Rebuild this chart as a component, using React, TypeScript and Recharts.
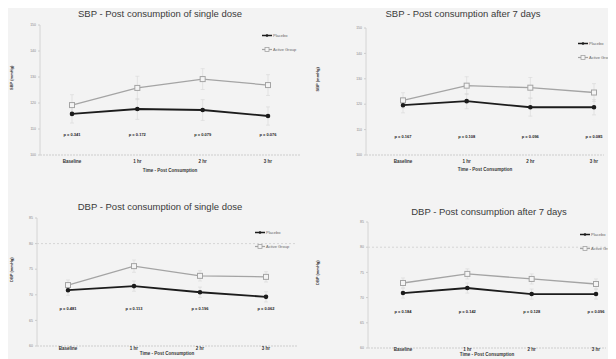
import React from "react";
import {
  LineChart, Line, XAxis, YAxis, ErrorBar, LabelList, ReferenceLine,
} from "recharts";

const TIMES = ["Baseline", "1 hr", "2 hr", "3 hr"];
const SERIES_NAMES = ["Placebo", "Active Group"];

// SBP, single dose
const SBP_SINGLE_PLACEBO = [115.8, 117.7, 117.3, 115.0];
const SBP_SINGLE_ACTIVE = [119.2, 125.8, 129.2, 126.9];
const SBP_SINGLE_ERR_P = [3.5, 4, 4, 3.5];
const SBP_SINGLE_ERR_A = [4, 4.5, 4, 4];
const SBP_SINGLE_P = ["p = 0.341", "p = 0.172", "p = 0.079", "p = 0.076"];

// SBP, after 7 days
const SBP_WEEK_PLACEBO = [119.6, 121.2, 118.8, 118.8];
const SBP_WEEK_ACTIVE = [121.5, 127.3, 126.5, 124.6];
const SBP_WEEK_ERR_P = [3, 3, 3.5, 3];
const SBP_WEEK_ERR_A = [3, 3.5, 4, 3.5];
const SBP_WEEK_P = ["p = 0.167", "p = 0.108", "p = 0.096", "p = 0.085"];

// DBP, single dose
const DBP_SINGLE_PLACEBO = [70.9, 71.7, 70.5, 69.6];
const DBP_SINGLE_ACTIVE = [71.9, 75.6, 73.7, 73.5];
const DBP_SINGLE_ERR_P = [1, 1, 1, 1];
const DBP_SINGLE_ERR_A = [1, 1.2, 1, 1];
const DBP_SINGLE_P = ["p = 0.481", "p = 0.113", "p = 0.196", "p = 0.062"];

// DBP, after 7 days
const DBP_WEEK_PLACEBO = [70.9, 71.9, 70.7, 70.7];
const DBP_WEEK_ACTIVE = [72.9, 74.7, 73.7, 72.7];
const DBP_WEEK_ERR_P = [1, 1, 1, 1];
const DBP_WEEK_ERR_A = [1, 1, 1, 1];
const DBP_WEEK_P = ["p = 0.184", "p = 0.142", "p = 0.128", "p = 0.096"];

const SBP_TICKS = [100, 110, 120, 130, 140, 150];
const DBP_TICKS = [60, 65, 70, 75, 80, 85];

const FONT = "'Liberation Sans', Arial, sans-serif";
const DARK = "#1c1c1c";
const GREY = "#a4a4a4";

function build(placebo: number[], active: number[], errP: number[], errA: number[], p: string[], pLevel: number) {
  return TIMES.map((time, i) => ({
    time,
    placebo: placebo[i],
    active: active[i],
    errP: errP[i],
    errA: errA[i],
    p: p[i],
    pLevel,
  }));
}

const SquareDot = (props: any) => {
  const { cx, cy, index } = props;
  if (cx == null || cy == null) return <g key={index} />;
  return <rect key={index} x={cx - 2.5} y={cy - 2.5} width={5} height={5} fill="#f4f4f4" stroke={GREY} strokeWidth={1} />;
};

function LegendBox({ left, top }: { left: number; top: number }) {
  return (
    <div style={{ position: "absolute", left, top, fontFamily: FONT, fontSize: 4, color: "#666", lineHeight: "5px", whiteSpace: "nowrap" }}>
      <div style={{ display: "flex", alignItems: "center", gap: 1, height: 14 }}>
        <svg width={10} height={5}>
          <line x1={0} y1={2.5} x2={10} y2={2.5} stroke={DARK} strokeWidth={1.5} />
          <circle cx={5} cy={2.5} r={1.3} fill={DARK} />
        </svg>
        <span>{SERIES_NAMES[0]}</span>
      </div>
      <div style={{ display: "flex", alignItems: "center", gap: 1, height: 14 }}>
        <svg width={10} height={5}>
          <line x1={0} y1={2.5} x2={10} y2={2.5} stroke={GREY} strokeWidth={1.2} />
          <rect x={3} y={0.5} width={4} height={4} fill="#f4f4f4" stroke={GREY} strokeWidth={0.8} />
        </svg>
        <span>{SERIES_NAMES[1]}</span>
      </div>
    </div>
  );
}

interface PanelProps {
  left: number;
  top: number;
  width: number;
  height: number;
  margin: { top: number; right: number; left: number; bottom: number };
  yAxisWidth: number;
  padding: { left: number; right: number };
  title: string;
  titleX: number;
  titleY: number;
  yLabel: string;
  xLabelOffset: number;
  xTickSize: number;
  data: ReturnType<typeof build>;
  domain: [number, number];
  ticks: number[];
  legendLeft: number;
  legendTop: number;
  refY?: number;
}

function Panel(p: PanelProps) {
  return (
    <>
      <div
        style={{
          position: "absolute", left: p.titleX - 110, top: p.titleY - 7, width: 220,
          textAlign: "center", fontFamily: FONT, fontSize: 9.5, color: "#3a3a3a", whiteSpace: "nowrap",
        }}
      >
        {p.title}
      </div>
      <div style={{ position: "absolute", left: p.left, top: p.top }}>
        <LineChart width={p.width} height={p.height} data={p.data} margin={p.margin}>
          <XAxis
            dataKey="time"
            padding={p.padding}
            tick={{ fontSize: 4.5, fill: "#333", fontFamily: FONT, fontWeight: 700 }}
            tickLine={false}
            tickSize={p.xTickSize}
            tickMargin={0}
            axisLine={{ stroke: "#cdcdcd", strokeDasharray: "2 1" }}
            height={25}
            label={{ value: "Time - Post Consumption", position: "insideTop", offset: p.xLabelOffset, fontSize: 4.5, fontWeight: 700, fill: "#333", fontFamily: FONT }}
          />
          <YAxis
            domain={p.domain}
            ticks={p.ticks}
            width={p.yAxisWidth}
            tick={{ fontSize: 3.5, fill: "#888", fontFamily: FONT }}
            tickLine={{ stroke: "#ccc" }}
            tickSize={2}
            axisLine={{ stroke: "#d4d4d4" }}
            label={{ value: p.yLabel, angle: -90, position: "insideLeft", offset: 12, fontSize: 4, fontWeight: 700, fill: "#333", fontFamily: FONT }}
          />
          {p.refY !== undefined && (
            <ReferenceLine y={p.refY} stroke="#d6d6d6" strokeDasharray="2 2" />
          )}
          <Line
            dataKey="pLevel"
            stroke="none"
            dot={false}
            isAnimationActive={false}
            legendType="none"
          >
            <LabelList dataKey="p" position="center" fontSize={4} fontWeight={700} fill="#222" fontFamily={FONT} />
          </Line>
          <Line
            dataKey="active"
            name={SERIES_NAMES[1]}
            stroke={GREY}
            strokeWidth={1.3}
            dot={SquareDot}
            isAnimationActive={false}
          >
            <ErrorBar dataKey="errA" width={2} stroke="#d6d6d6" strokeWidth={0.6} direction="y" />
          </Line>
          <Line
            dataKey="placebo"
            name={SERIES_NAMES[0]}
            stroke={DARK}
            strokeWidth={1.8}
            dot={{ r: 1.4, fill: DARK, stroke: DARK }}
            isAnimationActive={false}
          >
            <ErrorBar dataKey="errP" width={2} stroke="#d6d6d6" strokeWidth={0.6} direction="y" />
          </Line>
        </LineChart>
      </div>
      <LegendBox left={p.legendLeft} top={p.legendTop} />
    </>
  );
}

export default function App() {
  return (
    <div
      style={{
        position: "relative", width: 616, height: 359, overflow: "hidden",
        background: "#f3f3f3", margin: "-8px -8px 0 -8px",
      }}
    >
      <div style={{ position: "absolute", left: 15, top: 0, width: 601, height: 4, background: "linear-gradient(#3e3e3e, #777)" }} />
      <Panel
        left={0} top={0} width={306} height={180}
        margin={{ top: 25, right: 6, left: 0, bottom: 0 }}
        yAxisWidth={40}
        padding={{ left: 32, right: 32 }}
        title="SBP - Post consumption of single dose" titleX={160} titleY={15}
        yLabel="SBP (mmHg)" xLabelOffset={14} xTickSize={5}
        data={build(SBP_SINGLE_PLACEBO, SBP_SINGLE_ACTIVE, SBP_SINGLE_ERR_P, SBP_SINGLE_ERR_A, SBP_SINGLE_P, 107.7)}
        domain={[100, 150]} ticks={SBP_TICKS}
        legendLeft={262} legendTop={28}
      />
      <Panel
        left={306} top={0} width={310} height={180}
        margin={{ top: 28, right: 12, left: 0, bottom: 0 }}
        yAxisWidth={60}
        padding={{ left: 37, right: 10 }}
        title="SBP - Post consumption after 7 days" titleX={463} titleY={15}
        yLabel="SBP (mmHg)" xLabelOffset={13} xTickSize={5}
        data={build(SBP_WEEK_PLACEBO, SBP_WEEK_ACTIVE, SBP_WEEK_ERR_P, SBP_WEEK_ERR_A, SBP_WEEK_P, 107.3)}
        domain={[100, 150]} ticks={SBP_TICKS}
        legendLeft={578} legendTop={36}
      />
      <Panel
        left={0} top={180} width={306} height={193}
        margin={{ top: 38, right: 9, left: 0, bottom: 2 }}
        yAxisWidth={37}
        padding={{ left: 31, right: 31 }}
        title="DBP - Post consumption of single dose" titleX={160} titleY={208}
        yLabel="DBP (mmHg)" xLabelOffset={6} xTickSize={1}
        data={build(DBP_SINGLE_PLACEBO, DBP_SINGLE_ACTIVE, DBP_SINGLE_ERR_P, DBP_SINGLE_ERR_A, DBP_SINGLE_P, 67.4)}
        domain={[60, 85]} ticks={DBP_TICKS}
        legendLeft={255} legendTop={225}
        refY={80}
      />
      <Panel
        left={306} top={180} width={310} height={193}
        margin={{ top: 42, right: 10, left: 0, bottom: 0 }}
        yAxisWidth={62}
        padding={{ left: 35, right: 10 }}
        title="DBP - Post consumption after 7 days" titleX={489} titleY={213}
        yLabel="DBP (mmHg)" xLabelOffset={5} xTickSize={0}
        data={build(DBP_WEEK_PLACEBO, DBP_WEEK_ACTIVE, DBP_WEEK_ERR_P, DBP_WEEK_ERR_A, DBP_WEEK_P, 67.3)}
        domain={[60, 85]} ticks={DBP_TICKS}
        legendLeft={580} legendTop={227}
        refY={80}
      />
    </div>
  );
}
